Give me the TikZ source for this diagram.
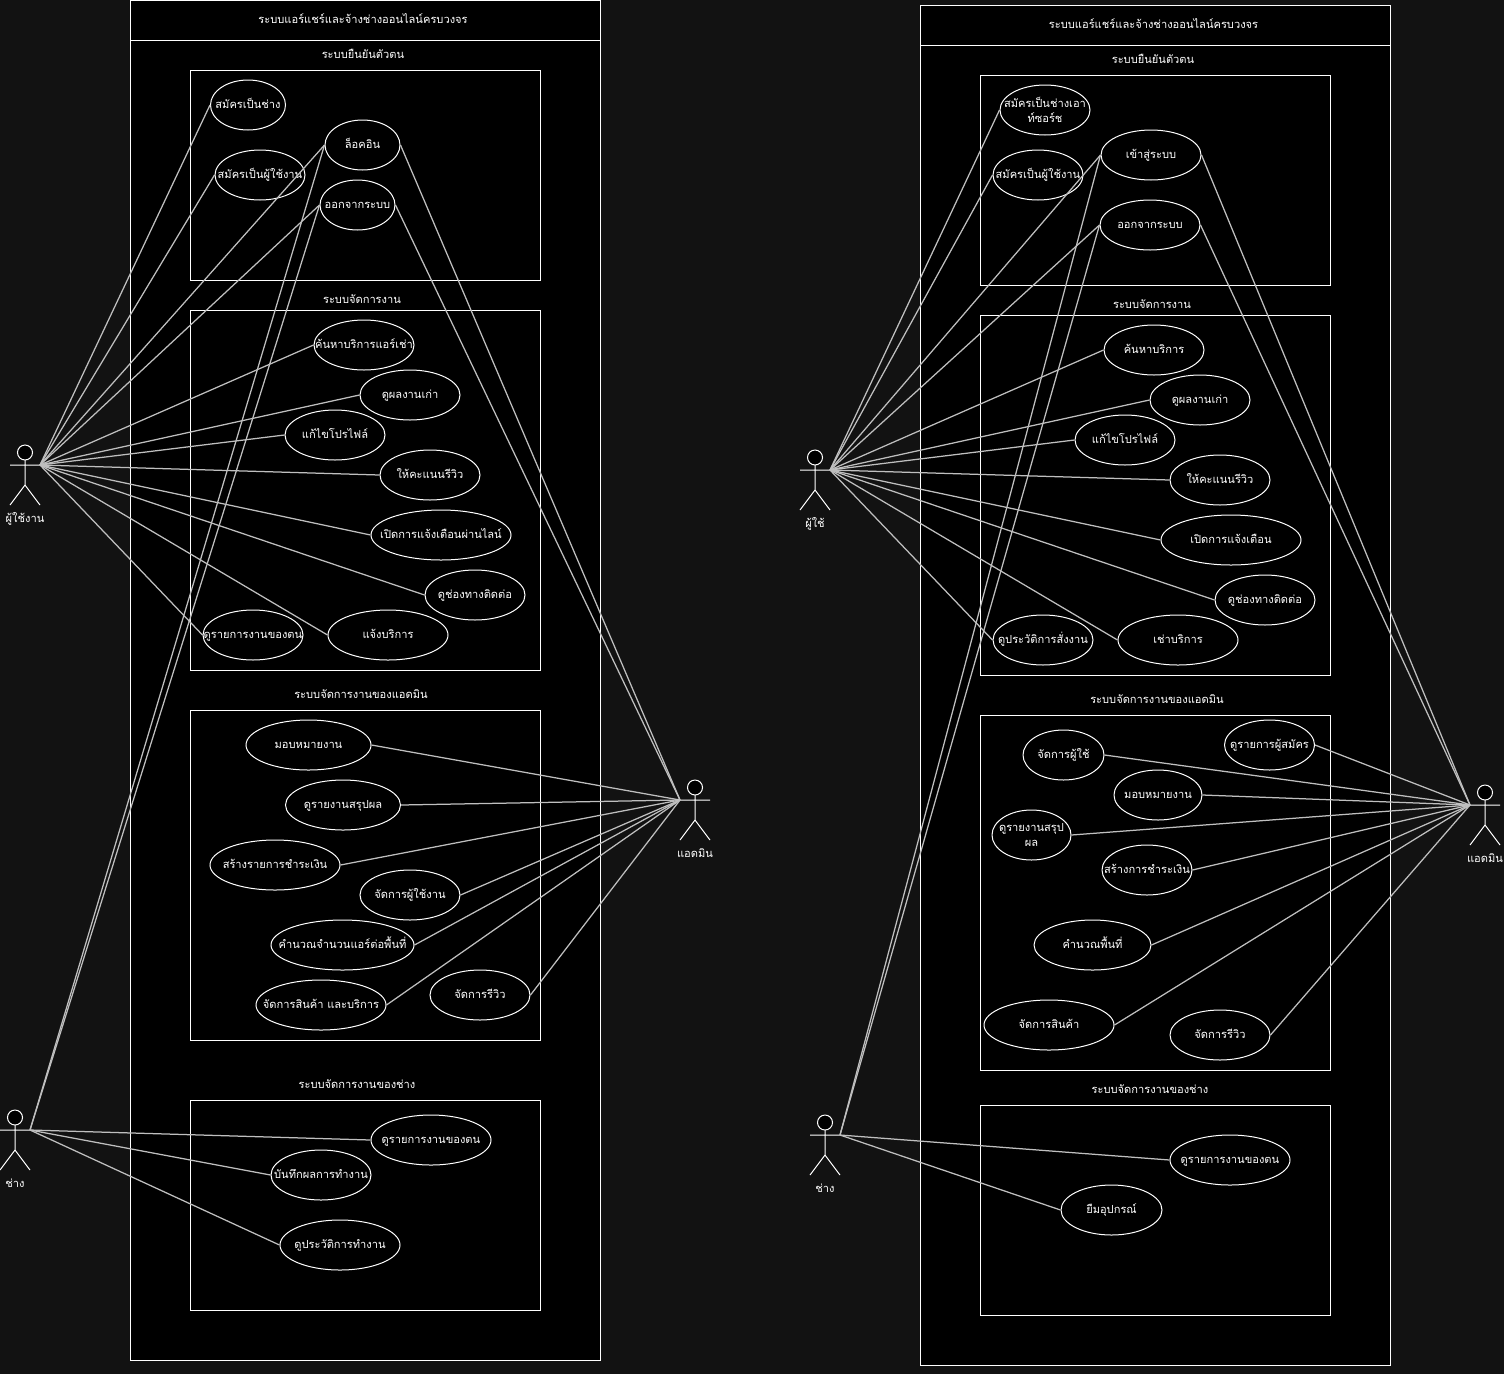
\documentclass[tikz,border=0pt]{standalone}
\usepackage{fontspec}
\setmainfont[Script=Thai]{Loma}
\usetikzlibrary{shapes.geometric}
\tikzset{
  uc/.style={ellipse,draw=white,line width=1pt,inner sep=0pt,minimum height=50pt},
  conn/.style={draw=white!75!black,line width=1.25pt},
  framebox/.style={draw=white,line width=1pt,fill=black},
  txt/.style={text=white,inner sep=0pt,text height=9.5pt,text depth=2.5pt},
  every label/.style={txt},
  actorline/.style={draw=white,line width=1pt},
}
\newcommand\ucase[6]{\node[uc,minimum width=#4pt,label={center:#6}] (#1) at (#2,#3) {};}
\newcommand\ucasetwo[7]{\node[uc,minimum width=#4pt,label={[text height=,text depth=,align=center,font=\fontsize{11.1}{15}\selectfont]center:#6\\#7}] (#1) at (#2,#3) {};}
\newcommand\actor[5]{% name, left x, top y, hand x offset, label
  \begin{scope}[shift={(#2,#3)}]
    \draw[actorline] (0,20) -- (30,20) (15,15) -- (15,40) -- (0,60) (15,40) -- (30,60);
    \node[circle,draw=white,fill=black,line width=1pt,minimum size=15pt,inner sep=0pt] (#1head) at (15,7.5) {};
    \coordinate (#1) at (#4,20);
    \node[txt] (#1label) at (15,74) {#5};
  \end{scope}}
\newcommand\panel[8]{% name, x1,y1,x2,y2, header y, title x, title
  \draw[framebox] (#2,#3) rectangle (#4,#5);
  \draw[framebox] (#2,#3) rectangle (#4,#6);
  \node[txt] (#1) at (#7,#3+20) {#8};}
\newcommand\innerframe[8]{% name, x1,y1,x2,y2, label x, label y, label
  \draw[framebox] (#2,#3) rectangle (#4,#5);
  \node[txt] (#1) at (#6,#7) {#8};}
\begin{document}
\begin{tikzpicture}[x=1pt,y=-1pt,font=\fontsize{11.1}{14}\selectfont]
\fill[fill=white!7!black] (0,0) rectangle (1504,1374);
\useasboundingbox (0,0) rectangle (1504,1374);
%% LEFT
\panel{ltitle}{130}{0}{600}{1360}{40}{363}{ระบบแอร์แชร์และจ้างช่างออนไลน์ครบวงจร}
\innerframe{la}{190}{70}{540}{280}{363}{55}{ระบบยืนยันตัวตน}
\innerframe{lb}{190}{310}{540}{670}{362}{300}{ระบบจัดการงาน}
\innerframe{lc}{190}{710}{540}{1040}{361}{695}{ระบบจัดการงานของแอดมิน}
\innerframe{ld}{190}{1100}{540}{1310}{357}{1085}{ระบบจัดการงานของช่าง}
\ucase{la1}{248}{105}{75}{}{สมัครเป็นช่าง}
\ucase{la2}{260}{175}{90}{}{สมัครเป็นผู้ใช้งาน}
\ucase{la3}{362.5}{145}{75}{}{ล็อคอิน}
\ucase{la4}{357.5}{205}{75}{}{ออกจากระบบ}
\ucase{lb1}{364}{345}{100}{}{ค้นหาบริการแอร์เช่า}
\ucase{lb2}{410}{395}{100}{}{ดูผลงานเก่า}
\ucase{lb3}{335}{435}{100}{}{แก้ไขโปรไฟล์}
\ucase{lb4}{430}{475}{100}{}{ให้คะแนนรีวิว}
\ucase{lb5}{441}{535}{140}{}{เปิดการแจ้งเตือนผ่านไลน์}
\ucase{lb6}{475}{595}{100}{}{ดูช่องทางติดต่อ}
\ucase{lb7}{253}{635}{100}{}{ดูรายการงานของตน}
\ucase{lb8}{388}{635}{120}{}{แจ้งบริการ}
\ucase{lc1}{308.5}{745}{125}{}{มอบหมายงาน}
\ucase{lc2}{343}{805}{115}{}{ดูรายงานสรุปผล}
\ucase{lc3}{275}{865}{130}{}{สร้างรายการชำระเงิน}
\ucase{lc4}{410}{895}{100}{}{จัดการผู้ใช้งาน}
\ucase{lc5}{342.5}{945}{143}{}{คำนวณจำนวนแอร์ต่อพื้นที่}
\ucase{lc6}{321}{1005}{130}{}{จัดการสินค้า และบริการ}
\ucase{lc7}{480}{995}{100}{}{จัดการรีวิว}
\ucase{ld1}{431}{1140}{120}{}{ดูรายการงานของตน}
\ucase{ld2}{321}{1175}{100}{}{บันทึกผลการทำงาน}
\ucase{ld3}{340}{1245}{120}{}{ดูประวัติการทำงาน}
\actor{luser}{10}{445}{30}{ผู้ใช้งาน}
\actor{ladmin}{680}{780}{0}{แอดมิน}
\actor{ltech}{0}{1110}{30}{ช่าง}
\foreach \n in {la1,la2,la3,la4,lb1,lb2,lb3,lb4,lb5,lb6,lb7,lb8}
  \draw[conn] (luser) -- (\n.west);
\foreach \n in {la3,la4,ld1,ld2,ld3}
  \draw[conn] (ltech) -- (\n.west);
\foreach \n in {la3,la4,lc1,lc2,lc3,lc4,lc5,lc6,lc7}
  \draw[conn] (ladmin) -- (\n.east);
%% RIGHT
\panel{rtitle}{920}{5}{1390}{1365}{45}{1153.5}{ระบบแอร์แชร์และจ้างช่างออนไลน์ครบวงจร}
\innerframe{ra}{980}{75}{1330}{285}{1153}{60}{ระบบยืนยันตัวตน}
\innerframe{rb}{980}{315}{1330}{675}{1152}{305}{ระบบจัดการงาน}
\innerframe{rc}{980}{715}{1330}{1070}{1157}{700}{ระบบจัดการงานของแอดมิน}
\innerframe{rd}{980}{1105}{1330}{1315}{1150}{1090}{ระบบจัดการงานของช่าง}
\ucasetwo{ra1}{1045}{110}{90}{}{สมัครเป็นช่างเอา}{ท์ซอร์ช}
\ucase{ra2}{1038}{175}{90}{}{สมัครเป็นผู้ใช้งาน}
\ucase{ra3}{1151}{155}{100}{}{เข้าสู่ระบบ}
\ucase{ra4}{1150}{225}{100}{}{ออกจากระบบ}
\ucase{rb1}{1154}{350}{100}{}{ค้นหาบริการ}
\ucase{rb2}{1200}{400}{100}{}{ดูผลงานเก่า}
\ucase{rb3}{1125}{440}{100}{}{แก้ไขโปรไฟล์}
\ucase{rb4}{1220}{480}{100}{}{ให้คะแนนรีวิว}
\ucase{rb5}{1231}{540}{140}{}{เปิดการแจ้งเตือน}
\ucase{rb6}{1265}{600}{100}{}{ดูช่องทางติดต่อ}
\ucase{rb7}{1043}{640}{100}{}{ดูประวัติการสั่งงาน}
\ucase{rb8}{1178}{640}{120}{}{เช่าบริการ}
\ucase{rc1}{1269.5}{745}{90}{}{ดูรายการผู้สมัคร}
\ucase{rc2}{1063.5}{755}{81}{}{จัดการผู้ใช้}
\ucase{rc3}{1158}{795}{88}{}{มอบหมายงาน}
\ucasetwo{rc4}{1031.5}{835}{79}{}{ดูรายงานสรุป}{ผล}
\ucase{rc5}{1147}{870}{90}{}{สร้างการชำระเงิน}
\ucase{rc6}{1092.5}{945}{117}{}{คำนวณพื้นที่}
\ucase{rc7}{1049}{1025}{130}{}{จัดการสินค้า}
\ucase{rc8}{1220}{1035}{100}{}{จัดการรีวิว}
\ucase{rd1}{1230}{1160}{120}{}{ดูรายการงานของตน}
\ucase{rd2}{1111.5}{1210}{101}{}{ยืมอุปกรณ์}
\actor{ruser}{800}{450}{30}{ผู้ใช้}
\actor{radmin}{1470}{785}{0}{แอดมิน}
\actor{rtech}{810}{1115}{30}{ช่าง}
\foreach \n in {ra1,ra2,ra3,ra4,rb1,rb2,rb3,rb4,rb5,rb6,rb7,rb8}
  \draw[conn] (ruser) -- (\n.west);
\foreach \n in {ra3,ra4,rd1,rd2}
  \draw[conn] (rtech) -- (\n.west);
\foreach \n in {ra3,ra4,rc1,rc2,rc3,rc4,rc5,rc6,rc7,rc8}
  \draw[conn] (radmin) -- (\n.east);
\end{tikzpicture}
\end{document}
